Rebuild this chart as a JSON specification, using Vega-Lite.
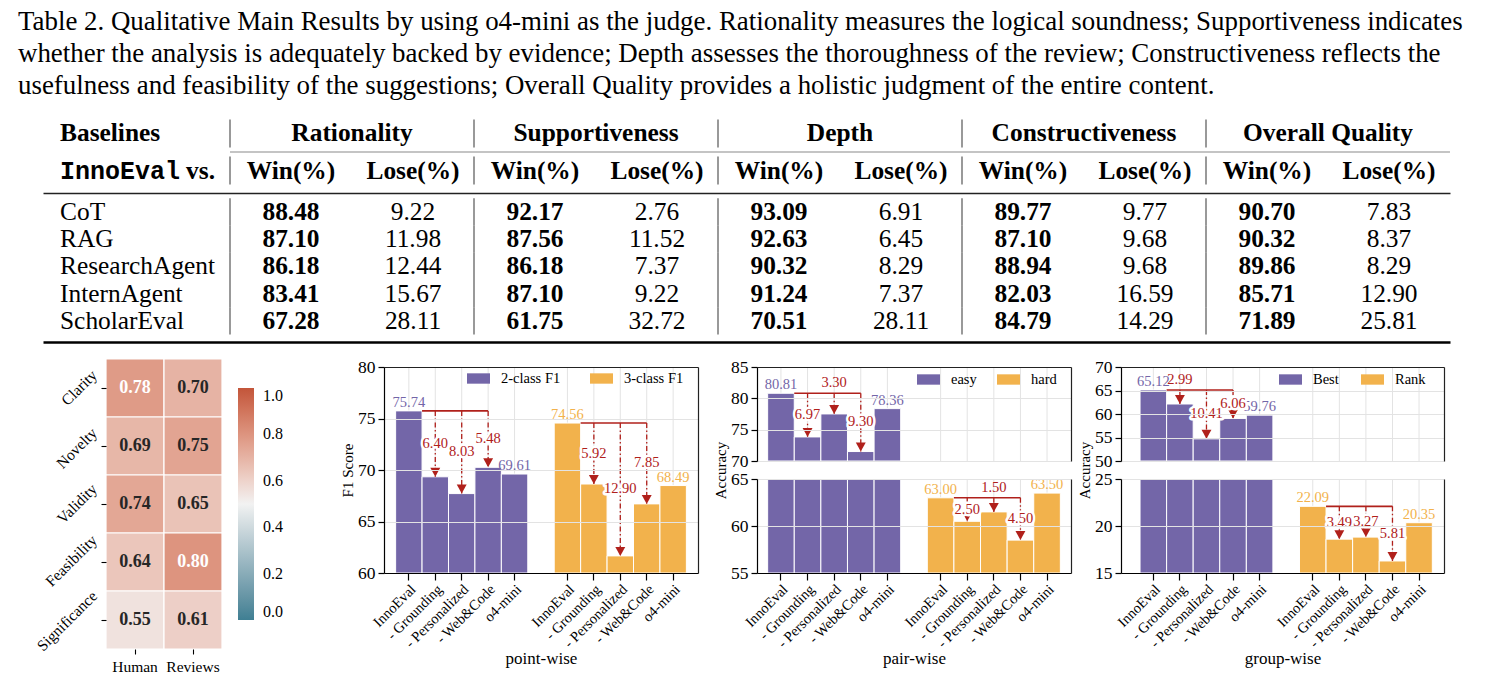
{
  "$schema": "https://vega.github.io/schema/vega-lite/v6.json",
  "background": "white",
  "padding": {"left": 18, "top": 8, "right": 4, "bottom": 4},
  "config": {
    "font": "Liberation Serif",
    "view": {"stroke": null},
    "axis": {"labelFont": "Liberation Serif", "titleFont": "Liberation Serif", "labelColor": "black", "titleColor": "black", "titleFontWeight": "normal"},
    "legend": {"labelFont": "Liberation Serif", "labelColor": "black", "padding": 0},
    "text": {"font": "Liberation Serif"}
  },
  "title": {
    "text": [
      "Table 2. Qualitative Main Results by using o4-mini as the judge. Rationality measures the logical soundness; Supportiveness indicates",
      "whether the analysis is adequately backed by evidence; Depth assesses the thoroughness of the review; Constructiveness reflects the",
      "usefulness and feasibility of the suggestions; Overall Quality provides a holistic judgment of the entire content."
    ],
    "anchor": "start", "frame": "group", "dx": -25, "offset": 11,
    "font": "Liberation Serif", "fontSize": 26.9, "fontWeight": "normal", "lineHeight": 32, "color": "black"
  },
  "datasets": {
    "headers": [
      {"row": "group", "column": "Baselines", "label": "Baselines"},
      {"row": "metric", "column": "Baselines", "label": "InnoEval"},
      {"row": "metric", "column": "Baselines", "label": "vs."},
      {"row": "group", "column": "Rationality Win", "label": "Rationality"},
      {"row": "group", "column": "Supportiveness Win", "label": "Supportiveness"},
      {"row": "group", "column": "Depth Win", "label": "Depth"},
      {"row": "group", "column": "Constructiveness Win", "label": "Constructiveness"},
      {"row": "group", "column": "Overall Quality Win", "label": "Overall Quality"},
      {"row": "metric", "column": "Rationality Win", "label": "Win(%)"},
      {"row": "metric", "column": "Rationality Lose", "label": "Lose(%)"},
      {"row": "metric", "column": "Supportiveness Win", "label": "Win(%)"},
      {"row": "metric", "column": "Supportiveness Lose", "label": "Lose(%)"},
      {"row": "metric", "column": "Depth Win", "label": "Win(%)"},
      {"row": "metric", "column": "Depth Lose", "label": "Lose(%)"},
      {"row": "metric", "column": "Constructiveness Win", "label": "Win(%)"},
      {"row": "metric", "column": "Constructiveness Lose", "label": "Lose(%)"},
      {"row": "metric", "column": "Overall Quality Win", "label": "Win(%)"},
      {"row": "metric", "column": "Overall Quality Lose", "label": "Lose(%)"}
    ],
    "results": [
      {"baseline": "CoT", "column": "Rationality Win", "value": 88.48},
      {"baseline": "CoT", "column": "Rationality Lose", "value": 9.22},
      {"baseline": "CoT", "column": "Supportiveness Win", "value": 92.17},
      {"baseline": "CoT", "column": "Supportiveness Lose", "value": 2.76},
      {"baseline": "CoT", "column": "Depth Win", "value": 93.09},
      {"baseline": "CoT", "column": "Depth Lose", "value": 6.91},
      {"baseline": "CoT", "column": "Constructiveness Win", "value": 89.77},
      {"baseline": "CoT", "column": "Constructiveness Lose", "value": 9.77},
      {"baseline": "CoT", "column": "Overall Quality Win", "value": 90.70},
      {"baseline": "CoT", "column": "Overall Quality Lose", "value": 7.83},
      {"baseline": "RAG", "column": "Rationality Win", "value": 87.10},
      {"baseline": "RAG", "column": "Rationality Lose", "value": 11.98},
      {"baseline": "RAG", "column": "Supportiveness Win", "value": 87.56},
      {"baseline": "RAG", "column": "Supportiveness Lose", "value": 11.52},
      {"baseline": "RAG", "column": "Depth Win", "value": 92.63},
      {"baseline": "RAG", "column": "Depth Lose", "value": 6.45},
      {"baseline": "RAG", "column": "Constructiveness Win", "value": 87.10},
      {"baseline": "RAG", "column": "Constructiveness Lose", "value": 9.68},
      {"baseline": "RAG", "column": "Overall Quality Win", "value": 90.32},
      {"baseline": "RAG", "column": "Overall Quality Lose", "value": 8.37},
      {"baseline": "ResearchAgent", "column": "Rationality Win", "value": 86.18},
      {"baseline": "ResearchAgent", "column": "Rationality Lose", "value": 12.44},
      {"baseline": "ResearchAgent", "column": "Supportiveness Win", "value": 86.18},
      {"baseline": "ResearchAgent", "column": "Supportiveness Lose", "value": 7.37},
      {"baseline": "ResearchAgent", "column": "Depth Win", "value": 90.32},
      {"baseline": "ResearchAgent", "column": "Depth Lose", "value": 8.29},
      {"baseline": "ResearchAgent", "column": "Constructiveness Win", "value": 88.94},
      {"baseline": "ResearchAgent", "column": "Constructiveness Lose", "value": 9.68},
      {"baseline": "ResearchAgent", "column": "Overall Quality Win", "value": 89.86},
      {"baseline": "ResearchAgent", "column": "Overall Quality Lose", "value": 8.29},
      {"baseline": "InternAgent", "column": "Rationality Win", "value": 83.41},
      {"baseline": "InternAgent", "column": "Rationality Lose", "value": 15.67},
      {"baseline": "InternAgent", "column": "Supportiveness Win", "value": 87.10},
      {"baseline": "InternAgent", "column": "Supportiveness Lose", "value": 9.22},
      {"baseline": "InternAgent", "column": "Depth Win", "value": 91.24},
      {"baseline": "InternAgent", "column": "Depth Lose", "value": 7.37},
      {"baseline": "InternAgent", "column": "Constructiveness Win", "value": 82.03},
      {"baseline": "InternAgent", "column": "Constructiveness Lose", "value": 16.59},
      {"baseline": "InternAgent", "column": "Overall Quality Win", "value": 85.71},
      {"baseline": "InternAgent", "column": "Overall Quality Lose", "value": 12.90},
      {"baseline": "ScholarEval", "column": "Rationality Win", "value": 67.28},
      {"baseline": "ScholarEval", "column": "Rationality Lose", "value": 28.11},
      {"baseline": "ScholarEval", "column": "Supportiveness Win", "value": 61.75},
      {"baseline": "ScholarEval", "column": "Supportiveness Lose", "value": 32.72},
      {"baseline": "ScholarEval", "column": "Depth Win", "value": 70.51},
      {"baseline": "ScholarEval", "column": "Depth Lose", "value": 28.11},
      {"baseline": "ScholarEval", "column": "Constructiveness Win", "value": 84.79},
      {"baseline": "ScholarEval", "column": "Constructiveness Lose", "value": 14.29},
      {"baseline": "ScholarEval", "column": "Overall Quality Win", "value": 71.89},
      {"baseline": "ScholarEval", "column": "Overall Quality Lose", "value": 25.81}
    ],
    "agreement": [
      {"aspect": "Clarity", "source": "Human", "score": 0.78},
      {"aspect": "Clarity", "source": "Reviews", "score": 0.70},
      {"aspect": "Novelty", "source": "Human", "score": 0.69},
      {"aspect": "Novelty", "source": "Reviews", "score": 0.75},
      {"aspect": "Validity", "source": "Human", "score": 0.74},
      {"aspect": "Validity", "source": "Reviews", "score": 0.65},
      {"aspect": "Feasibility", "source": "Human", "score": 0.64},
      {"aspect": "Feasibility", "source": "Reviews", "score": 0.80},
      {"aspect": "Significance", "source": "Human", "score": 0.55},
      {"aspect": "Significance", "source": "Reviews", "score": 0.61}
    ],
    "bars": [
      {"panel": "point-wise", "series": "2-class F1", "method": "InnoEval", "slot": "2-class F1|InnoEval", "value": 75.74},
      {"panel": "point-wise", "series": "2-class F1", "method": "- Grounding", "slot": "2-class F1|- Grounding", "value": 69.34, "ref": "2-class F1|InnoEval", "base": 75.74, "drop": 6.40},
      {"panel": "point-wise", "series": "2-class F1", "method": "- Personalized", "slot": "2-class F1|- Personalized", "value": 67.71, "ref": "2-class F1|InnoEval", "base": 75.74, "drop": 8.03},
      {"panel": "point-wise", "series": "2-class F1", "method": "- Web&Code", "slot": "2-class F1|- Web&Code", "value": 70.26, "ref": "2-class F1|InnoEval", "base": 75.74, "drop": 5.48},
      {"panel": "point-wise", "series": "2-class F1", "method": "o4-mini", "slot": "2-class F1|o4-mini", "value": 69.61},
      {"panel": "point-wise", "series": "3-class F1", "method": "InnoEval", "slot": "3-class F1|InnoEval", "value": 74.56},
      {"panel": "point-wise", "series": "3-class F1", "method": "- Grounding", "slot": "3-class F1|- Grounding", "value": 68.64, "ref": "3-class F1|InnoEval", "base": 74.56, "drop": 5.92},
      {"panel": "point-wise", "series": "3-class F1", "method": "- Personalized", "slot": "3-class F1|- Personalized", "value": 61.66, "ref": "3-class F1|InnoEval", "base": 74.56, "drop": 12.90},
      {"panel": "point-wise", "series": "3-class F1", "method": "- Web&Code", "slot": "3-class F1|- Web&Code", "value": 66.71, "ref": "3-class F1|InnoEval", "base": 74.56, "drop": 7.85},
      {"panel": "point-wise", "series": "3-class F1", "method": "o4-mini", "slot": "3-class F1|o4-mini", "value": 68.49},
      {"panel": "pair-wise", "series": "easy", "method": "InnoEval", "slot": "easy|InnoEval", "value": 80.81},
      {"panel": "pair-wise", "series": "easy", "method": "- Grounding", "slot": "easy|- Grounding", "value": 73.84, "ref": "easy|InnoEval", "base": 80.81, "drop": 6.97},
      {"panel": "pair-wise", "series": "easy", "method": "- Personalized", "slot": "easy|- Personalized", "value": 77.51, "ref": "easy|InnoEval", "base": 80.81, "drop": 3.30},
      {"panel": "pair-wise", "series": "easy", "method": "- Web&Code", "slot": "easy|- Web&Code", "value": 71.51, "ref": "easy|InnoEval", "base": 80.81, "drop": 9.30},
      {"panel": "pair-wise", "series": "easy", "method": "o4-mini", "slot": "easy|o4-mini", "value": 78.36},
      {"panel": "pair-wise", "series": "hard", "method": "InnoEval", "slot": "hard|InnoEval", "value": 63.00},
      {"panel": "pair-wise", "series": "hard", "method": "- Grounding", "slot": "hard|- Grounding", "value": 60.50, "ref": "hard|InnoEval", "base": 63.00, "drop": 2.50},
      {"panel": "pair-wise", "series": "hard", "method": "- Personalized", "slot": "hard|- Personalized", "value": 61.50, "ref": "hard|InnoEval", "base": 63.00, "drop": 1.50},
      {"panel": "pair-wise", "series": "hard", "method": "- Web&Code", "slot": "hard|- Web&Code", "value": 58.50, "ref": "hard|InnoEval", "base": 63.00, "drop": 4.50},
      {"panel": "pair-wise", "series": "hard", "method": "o4-mini", "slot": "hard|o4-mini", "value": 63.50},
      {"panel": "group-wise", "series": "Best", "method": "InnoEval", "slot": "Best|InnoEval", "value": 65.12},
      {"panel": "group-wise", "series": "Best", "method": "- Grounding", "slot": "Best|- Grounding", "value": 62.13, "ref": "Best|InnoEval", "base": 65.12, "drop": 2.99},
      {"panel": "group-wise", "series": "Best", "method": "- Personalized", "slot": "Best|- Personalized", "value": 54.71, "ref": "Best|InnoEval", "base": 65.12, "drop": 10.41},
      {"panel": "group-wise", "series": "Best", "method": "- Web&Code", "slot": "Best|- Web&Code", "value": 59.06, "ref": "Best|InnoEval", "base": 65.12, "drop": 6.06},
      {"panel": "group-wise", "series": "Best", "method": "o4-mini", "slot": "Best|o4-mini", "value": 59.76},
      {"panel": "group-wise", "series": "Rank", "method": "InnoEval", "slot": "Rank|InnoEval", "value": 22.09},
      {"panel": "group-wise", "series": "Rank", "method": "- Grounding", "slot": "Rank|- Grounding", "value": 18.60, "ref": "Rank|InnoEval", "base": 22.09, "drop": 3.49},
      {"panel": "group-wise", "series": "Rank", "method": "- Personalized", "slot": "Rank|- Personalized", "value": 18.82, "ref": "Rank|InnoEval", "base": 22.09, "drop": 3.27},
      {"panel": "group-wise", "series": "Rank", "method": "- Web&Code", "slot": "Rank|- Web&Code", "value": 16.28, "ref": "Rank|InnoEval", "base": 22.09, "drop": 5.81},
      {"panel": "group-wise", "series": "Rank", "method": "o4-mini", "slot": "Rank|o4-mini", "value": 20.35}
    ]
  },
  "spacing": 0,
  "bounds": "flush",
  "vconcat": [
    {
      "width": 1407,
      "height": 82,
      "data": {"name": "headers"},
      "encoding": {
        "x": {"field": "column", "type": "nominal", "axis": null,
              "scale": {"type": "band", "domain": ["Baselines", "Rationality Win", "Rationality Lose", "Supportiveness Win", "Supportiveness Lose", "Depth Win", "Depth Lose", "Constructiveness Win", "Constructiveness Lose", "Overall Quality Win", "Overall Quality Lose"], "paddingInner": 0, "paddingOuter": 0.2664, "align": 1}},
        "y": {"field": "row", "type": "nominal", "axis": null, "scale": {"type": "band", "domain": ["group", "metric"], "paddingInner": 0, "paddingOuter": 0.108}}
      },
      "layer": [
        {
          "transform": [{"filter": "datum.row == 'metric' && datum.column != 'Baselines'"}],
          "mark": {"type": "text", "fontSize": 25.4, "fontWeight": "bold", "color": "black"},
          "encoding": {
            "x": {"field": "column", "type": "nominal",
                  "axis": {"orient": "top", "domain": true, "domainColor": "black", "domainWidth": 2, "labels": false, "ticks": false, "title": null, "grid": false, "zindex": 1}},
            "text": {"field": "label"}
          }
        },
        {
          "transform": [{"filter": "indexof(datum.column, 'Win') >= 0"}],
          "mark": {"type": "rule", "color": "#555555", "strokeWidth": 1.2},
          "encoding": {
            "x": {"field": "column", "type": "nominal", "bandPosition": 0, "axis": null},
            "y": {"field": "row", "type": "nominal", "bandPosition": 0.12, "axis": null},
            "y2": {"field": "row", "bandPosition": 0.88}
          }
        },
        {
          "transform": [{"filter": "datum.row == 'metric' && datum.column != 'Baselines'"}],
          "mark": {"type": "rule", "color": "#8a8a8a", "strokeWidth": 1.2},
          "encoding": {
            "x": {"field": "column", "type": "nominal", "bandPosition": 0, "axis": null},
            "x2": {"field": "column", "bandPosition": 1},
            "y": {"field": "row", "type": "nominal", "bandPosition": 0, "axis": null}
          }
        },
        {
          "transform": [{"filter": "datum.row == 'group' && datum.column != 'Baselines'"}],
          "mark": {"type": "text", "fontSize": 25.4, "fontWeight": "bold", "color": "black"},
          "encoding": {
            "x": {"field": "column", "type": "nominal", "bandPosition": 1, "axis": null},
            "text": {"field": "label"}
          }
        },
        {
          "transform": [{"filter": "datum.label == 'Baselines'"}],
          "mark": {"type": "text", "align": "left", "dx": -48, "fontSize": 25.4, "fontWeight": "bold", "color": "black"},
          "encoding": {
            "x": {"field": "column", "type": "nominal", "bandPosition": 0, "axis": null},
            "text": {"field": "label"}
          }
        },
        {
          "transform": [{"filter": "datum.label == 'InnoEval'"}],
          "mark": {"type": "text", "align": "left", "dx": -48, "font": "Liberation Mono", "fontSize": 25, "fontWeight": "bold", "color": "black"},
          "encoding": {
            "x": {"field": "column", "type": "nominal", "bandPosition": 0, "axis": null},
            "text": {"field": "label"}
          }
        },
        {
          "transform": [{"filter": "datum.label == 'vs.'"}],
          "mark": {"type": "text", "align": "right", "dx": -15, "fontSize": 25.4, "fontWeight": "bold", "color": "black"},
          "encoding": {
            "x": {"field": "column", "type": "nominal", "bandPosition": 1, "axis": null},
            "text": {"field": "label"}
          }
        }
      ]
    },
    {
      "width": 1407,
      "height": 149,
      "data": {"name": "results"},
      "encoding": {
        "x": {"field": "column", "type": "nominal", "axis": null,
              "scale": {"type": "band", "domain": ["Baselines", "Rationality Win", "Rationality Lose", "Supportiveness Win", "Supportiveness Lose", "Depth Win", "Depth Lose", "Constructiveness Win", "Constructiveness Lose", "Overall Quality Win", "Overall Quality Lose"], "paddingInner": 0, "paddingOuter": 0.2664, "align": 1}},
        "y": {"field": "baseline", "type": "nominal", "axis": null,
              "scale": {"type": "band", "domain": ["CoT", "RAG", "ResearchAgent", "InternAgent", "ScholarEval"], "paddingInner": 0, "paddingOuter": 0.234, "align": 0.42}}
      },
      "layer": [
        {
          "transform": [{"filter": "indexof(datum.column, 'Win') >= 0"}],
          "mark": {"type": "rule", "color": "#555555", "strokeWidth": 1.2},
          "encoding": {
            "x": {"field": "column", "type": "nominal", "bandPosition": 0,
                  "axis": {"orient": "top", "domain": true, "domainColor": "#222222", "domainWidth": 1.4, "labels": false, "ticks": false, "title": null, "grid": false, "zindex": 1}},
            "y": {"field": "baseline", "type": "nominal", "bandPosition": 0, "axis": null},
            "y2": {"field": "baseline", "bandPosition": 1}
          }
        },
        {
          "transform": [{"filter": "indexof(datum.column, 'Win') >= 0"}],
          "mark": {"type": "text", "fontSize": 25.4, "fontWeight": "bold", "color": "black"},
          "encoding": {
            "x": {"field": "column", "type": "nominal", "axis": null},
            "text": {"field": "value", "type": "quantitative", "format": ".2f"}
          }
        },
        {
          "transform": [{"filter": "indexof(datum.column, 'Lose') >= 0"}],
          "mark": {"type": "text", "fontSize": 25.4, "color": "black"},
          "encoding": {
            "x": {"field": "column", "type": "nominal",
                  "axis": {"orient": "bottom", "domain": true, "domainColor": "black", "domainWidth": 2.5, "labels": false, "ticks": false, "title": null, "grid": false, "zindex": 1}},
            "text": {"field": "value", "type": "quantitative", "format": ".2f"}
          }
        },
        {
          "transform": [{"filter": "datum.column == 'Rationality Win'"}],
          "mark": {"type": "text", "align": "left", "dx": -109, "fontSize": 25.4, "color": "black"},
          "encoding": {
            "x": {"datum": "Baselines", "type": "nominal", "bandPosition": 0.5, "axis": null},
            "text": {"field": "baseline"}
          }
        }
      ],
      "resolve": {"axis": {"x": "independent"}}
    },
    {
      "spacing": 50,
      "bounds": "flush",
      "resolve": {"scale": {"color": "independent"}, "legend": {"color": "independent"}},
      "hconcat": [
        {
          "width": 291,
          "height": 307,
          "data": {"name": "agreement"},
          "encoding": {
            "x": {"field": "source", "type": "nominal",
                  "scale": {"type": "band", "domain": ["Human", "Reviews"], "range": [63, 179], "paddingInner": 0, "paddingOuter": 0},
                  "axis": {"orient": "bottom", "domain": false, "tickSize": 5, "tickColor": "black", "tickWidth": 1.1, "labelAngle": 0, "labelFontSize": 15.5, "labelPadding": 5, "title": null, "grid": false}},
            "y": {"field": "aspect", "type": "nominal",
                  "scale": {"type": "band", "domain": ["Clarity", "Novelty", "Validity", "Feasibility", "Significance"], "paddingInner": 0, "paddingOuter": 0.1466, "align": 1},
                  "axis": {"orient": "left", "offset": -63, "domain": false, "tickSize": 5, "tickColor": "black", "tickWidth": 1.1, "labelAngle": -45, "labelAlign": "right", "labelBaseline": "middle", "labelPadding": 7, "labelFontSize": 15.5, "labelOffset": {"expr": "-2.2*length(datum.label)"}, "title": null, "grid": false}}
          },
          "layer": [
            {
              "mark": {"type": "rect", "stroke": "white", "strokeWidth": 1.2},
              "encoding": {
                "color": {"field": "score", "type": "quantitative",
                          "scale": {"domain": [0, 0.5, 1], "range": ["#3f7f93", "#f2f2f2", "#c3553a"]},
                          "legend": {"orient": "none", "legendX": 195, "legendY": 46, "direction": "vertical", "title": null, "gradientLength": 232, "gradientThickness": 16, "values": [0, 0.2, 0.4, 0.6, 0.8, 1], "format": ".1f", "labelFontSize": 16, "labelOffset": 9, "gradientStrokeWidth": 0}}
              }
            },
            {
              "mark": {"type": "text", "fontSize": 18, "fontWeight": "bold"},
              "encoding": {
                "text": {"field": "score", "type": "quantitative", "format": ".2f"},
                "color": {"condition": {"test": "datum.score > 0.76", "value": "white"}, "value": "#262626"}
              }
            }
          ]
        },
        {
          "width": 323,
          "height": 231,
          "data": {"name": "bars"},
          "transform": [{"filter": "datum.panel == 'point-wise'"}],
          "layer": [
            {
              "mark": {"type": "rule", "color": "#e3e3e3", "strokeWidth": 1},
              "encoding": {
                "x": {"field": "slot", "type": "nominal",
                      "scale": {"type": "band", "domain": ["2-class F1|InnoEval", "2-class F1|- Grounding", "2-class F1|- Personalized", "2-class F1|- Web&Code", "2-class F1|o4-mini", "|", "3-class F1|InnoEval", "3-class F1|- Grounding", "3-class F1|- Personalized", "3-class F1|- Web&Code", "3-class F1|o4-mini"], "range": [0, 314], "paddingInner": 0, "paddingOuter": 0.44},
                      "axis": {"orient": "bottom", "values": ["2-class F1|InnoEval", "2-class F1|- Grounding", "2-class F1|- Personalized", "2-class F1|- Web&Code", "2-class F1|o4-mini", "3-class F1|InnoEval", "3-class F1|- Grounding", "3-class F1|- Personalized", "3-class F1|- Web&Code", "3-class F1|o4-mini"], "labelExpr": "split(datum.value, '|')[1]", "labelAngle": -45, "labelAlign": "right", "labelBaseline": "top", "labelFontSize": 14.5, "labelPadding": 2, "labelOverlap": false, "labelBound": false, "tickSize": 7, "tickColor": "black", "tickWidth": 1.2, "domainColor": "black", "domainWidth": 1.2, "grid": false, "title": "point-wise", "titleFontSize": 17, "titlePadding": 1, "zindex": 1}},
                "y": {"datum": 80, "type": "quantitative",
                      "scale": {"domain": [60, 80], "range": [231, 25], "nice": false, "zero": false, "clamp": true},
                      "axis": {"orient": "left", "values": [60, 65, 70, 75, 80], "labelFontSize": 17.5, "labelPadding": 3, "tickSize": 6, "tickColor": "black", "tickWidth": 1.2, "domainColor": "black", "domainWidth": 1.2, "grid": true, "gridColor": "#e3e3e3", "gridWidth": 1, "title": "F1 Score", "titleFontSize": 15, "titlePadding": 2, "zindex": 1}},
                "y2": {"datum": 60}
              }
            },
            {
              "mark": {"type": "bar", "stroke": "white", "strokeWidth": 1},
              "encoding": {
                "x": {"field": "slot", "type": "nominal",
                      "axis": {"orient": "top", "offset": -25, "domain": true, "domainColor": "#222222", "domainWidth": 1.2, "labels": false, "ticks": false, "grid": false, "title": null, "zindex": 1}},
                "y": {"field": "value", "type": "quantitative",
                      "axis": {"orient": "right", "offset": -9, "domain": true, "domainColor": "#222222", "domainWidth": 1.2, "labels": false, "ticks": false, "grid": false, "title": null, "zindex": 1}},
                "y2": {"datum": 60},
                "color": {"field": "series", "type": "nominal",
                          "scale": {"domain": ["2-class F1", "3-class F1"], "range": ["#7366a8", "#f2b24c"]},
                          "legend": {"orient": "none", "legendX": 83, "legendY": 25, "direction": "horizontal", "title": null, "symbolType": "M-1,-0.45L1,-0.45L1,0.45L-1,0.45Z", "symbolSize": 529, "symbolStrokeWidth": 0, "symbolOpacity": 1, "labelFontSize": 14.5, "labelOffset": 11, "columnPadding": 29}}
              }
            },
            {
              "transform": [{"filter": "datum.method == 'InnoEval' || datum.method == 'o4-mini'"}],
              "mark": {"type": "text", "baseline": "bottom", "dy": -1, "fontSize": 14.5},
              "encoding": {
                "x": {"field": "slot", "type": "nominal", "axis": null},
                "y": {"field": "value", "type": "quantitative", "axis": null},
                "text": {"field": "value", "type": "quantitative", "format": ".2f"},
                "color": {"field": "series", "type": "nominal"}
              }
            },
            {
              "transform": [{"filter": "datum.drop != null"}],
              "mark": {"type": "rule", "color": "#b0201b", "strokeWidth": 1.3, "strokeDash": [5, 2.5, 1.5, 2.5]},
              "encoding": {
                "x": {"field": "slot", "type": "nominal", "axis": null},
                "y": {"field": "base", "type": "quantitative", "axis": null},
                "y2": {"field": "value"}
              }
            },
            {
              "transform": [{"filter": "datum.method == '- Web&Code'"}],
              "mark": {"type": "rule", "color": "#b0201b", "strokeWidth": 1.6},
              "encoding": {
                "x": {"field": "ref", "type": "nominal", "bandPosition": 1, "axis": null},
                "x2": {"field": "slot", "bandPosition": 0.5},
                "y": {"field": "base", "type": "quantitative", "axis": null}
              }
            },
            {
              "transform": [{"filter": "datum.drop != null"}],
              "mark": {"type": "point", "shape": "M-0.55,-1L0.55,-1L0,0Z", "size": 324, "filled": true, "color": "#b0201b", "opacity": 1},
              "encoding": {
                "x": {"field": "slot", "type": "nominal", "axis": null},
                "y": {"field": "value", "type": "quantitative", "axis": null}
              }
            },
            {
              "transform": [{"filter": "datum.drop != null"}, {"fold": ["value", "base"], "as": ["end", "level"]}],
              "encoding": {
                "x": {"field": "slot", "type": "nominal", "axis": null},
                "y": {"aggregate": "mean", "field": "level", "type": "quantitative", "axis": null},
                "text": {"field": "drop", "type": "quantitative", "format": ".2f"}
              },
              "layer": [
                {"mark": {"type": "text", "fontSize": 14.5, "fill": "white", "stroke": "white", "strokeWidth": 5, "strokeJoin": "round"}},
                {"mark": {"type": "text", "fontSize": 14.5, "fill": "#b0201b"}}
              ]
            }
          ],
          "resolve": {"axis": {"x": "independent", "y": "independent"}}
        },
        {
          "width": 314,
          "height": 231,
          "data": {"name": "bars"},
          "transform": [{"filter": "datum.panel == 'pair-wise'"}],
          "layer": [
            {
              "mark": {"type": "rule", "color": "#e3e3e3", "strokeWidth": 1},
              "encoding": {
                "x": {"field": "slot", "type": "nominal",
                      "scale": {"type": "band", "domain": ["easy|InnoEval", "easy|- Grounding", "easy|- Personalized", "easy|- Web&Code", "easy|o4-mini", "|", "hard|InnoEval", "hard|- Grounding", "hard|- Personalized", "hard|- Web&Code", "hard|o4-mini"], "paddingInner": 0, "paddingOuter": 0.4},
                      "axis": {"orient": "top", "offset": -25, "domain": true, "domainColor": "#222222", "domainWidth": 1.2, "labels": false, "ticks": false, "grid": false, "title": null, "zindex": 1}},
                "y": {"datum": 85, "type": "quantitative",
                      "scale": {"domain": [70, 85], "range": [119, 25], "nice": false, "zero": false, "clamp": true},
                      "axis": {"orient": "left", "values": [70, 75, 80, 85], "labelFontSize": 17.5, "labelPadding": 3, "tickSize": 6, "tickColor": "black", "tickWidth": 1.2, "domainColor": "black", "domainWidth": 1.2, "grid": true, "gridColor": "#e3e3e3", "gridWidth": 1, "title": "Accuracy", "titleFontSize": 15, "titlePadding": 2, "titleY": 128, "zindex": 1}},
                "y2": {"datum": 70}
              }
            },
            {
              "mark": {"type": "rule", "color": "#e3e3e3", "strokeWidth": 1},
              "encoding": {
                "x": {"field": "slot", "type": "nominal",
                      "axis": {"orient": "bottom", "values": ["easy|InnoEval", "easy|- Grounding", "easy|- Personalized", "easy|- Web&Code", "easy|o4-mini", "hard|InnoEval", "hard|- Grounding", "hard|- Personalized", "hard|- Web&Code", "hard|o4-mini"], "labelExpr": "split(datum.value, '|')[1]", "labelAngle": -45, "labelAlign": "right", "labelBaseline": "top", "labelFontSize": 14.5, "labelPadding": 2, "labelOverlap": false, "labelBound": false, "tickSize": 7, "tickColor": "black", "tickWidth": 1.2, "domainColor": "black", "domainWidth": 1.2, "grid": false, "title": "pair-wise", "titleFontSize": 17, "titlePadding": 1, "zindex": 1}},
                "y": {"datum": 65, "type": "quantitative",
                      "scale": {"domain": [55, 65], "range": [231, 137], "nice": false, "zero": false, "clamp": true},
                      "axis": {"orient": "left", "values": [55, 60, 65], "labelFontSize": 17.5, "labelPadding": 3, "tickSize": 6, "tickColor": "black", "tickWidth": 1.2, "domainColor": "black", "domainWidth": 1.2, "grid": true, "gridColor": "#e3e3e3", "gridWidth": 1, "title": null, "zindex": 1}},
                "y2": {"datum": 55}
              }
            },
            {
              "transform": [{"filter": "datum.series == 'easy'"}],
              "mark": {"type": "bar", "stroke": "white", "strokeWidth": 1},
              "encoding": {
                "x": {"field": "slot", "type": "nominal", "axis": null},
                "y": {"field": "value", "type": "quantitative",
                      "scale": {"domain": [70, 85], "range": [119, 25], "nice": false, "zero": false, "clamp": true},
                      "axis": {"orient": "right", "domain": true, "domainColor": "#222222", "domainWidth": 1.2, "labels": false, "ticks": false, "grid": false, "title": null, "zindex": 1}},
                "y2": {"datum": 70},
                "color": {"field": "series", "type": "nominal",
                          "scale": {"domain": ["easy", "hard"], "range": ["#7366a8", "#f2b24c"]},
                          "legend": {"orient": "none", "legendX": 160, "legendY": 26, "direction": "horizontal", "title": null, "symbolType": "M-1,-0.45L1,-0.45L1,0.45L-1,0.45Z", "symbolSize": 529, "symbolStrokeWidth": 0, "symbolOpacity": 1, "labelFontSize": 14.5, "labelOffset": 11, "columnPadding": 20}}
              }
            },
            {
              "mark": {"type": "bar", "stroke": "white", "strokeWidth": 1},
              "encoding": {
                "x": {"field": "slot", "type": "nominal", "axis": null},
                "y": {"field": "value", "type": "quantitative",
                      "scale": {"domain": [55, 65], "range": [231, 137], "nice": false, "zero": false, "clamp": true},
                      "axis": {"orient": "right", "domain": true, "domainColor": "#222222", "domainWidth": 1.2, "labels": false, "ticks": false, "grid": false, "title": null, "zindex": 1}},
                "y2": {"datum": 55},
                "color": {"field": "series", "type": "nominal"}
              }
            },
            {
              "transform": [{"filter": "datum.series == 'easy' && (datum.method == 'InnoEval' || datum.method == 'o4-mini')"}],
              "mark": {"type": "text", "baseline": "bottom", "dy": -1, "fontSize": 14.5},
              "encoding": {
                "x": {"field": "slot", "type": "nominal", "axis": null},
                "y": {"field": "value", "type": "quantitative", "axis": null,
                      "scale": {"domain": [70, 85], "range": [119, 25], "nice": false, "zero": false, "clamp": true}},
                "text": {"field": "value", "type": "quantitative", "format": ".2f"},
                "color": {"field": "series", "type": "nominal"}
              }
            },
            {
              "transform": [{"filter": "datum.series == 'hard' && (datum.method == 'InnoEval' || datum.method == 'o4-mini')"}],
              "mark": {"type": "text", "baseline": "bottom", "dy": -1, "fontSize": 14.5},
              "encoding": {
                "x": {"field": "slot", "type": "nominal", "axis": null},
                "y": {"field": "value", "type": "quantitative", "axis": null,
                      "scale": {"domain": [55, 65], "range": [231, 137], "nice": false, "zero": false, "clamp": true}},
                "text": {"field": "value", "type": "quantitative", "format": ".2f"},
                "color": {"field": "series", "type": "nominal"}
              }
            },
            {
              "transform": [{"filter": "datum.series == 'easy' && datum.drop != null"}],
              "encoding": {
                "x": {"field": "slot", "type": "nominal", "axis": null},
                "y": {"field": "base", "type": "quantitative", "axis": null,
                      "scale": {"domain": [70, 85], "range": [119, 25], "nice": false, "zero": false, "clamp": true}}
              },
              "layer": [
                {"mark": {"type": "rule", "color": "#b0201b", "strokeWidth": 1.3, "strokeDash": [5, 2.5, 1.5, 2.5]}, "encoding": {"y2": {"field": "value"}}},
                {"transform": [{"filter": "datum.method == '- Web&Code'"}], "mark": {"type": "rule", "color": "#b0201b", "strokeWidth": 1.6},
                 "encoding": {"x": {"field": "ref", "type": "nominal", "bandPosition": 1, "axis": null}, "x2": {"field": "slot", "bandPosition": 0.5}}},
                {"mark": {"type": "point", "shape": "M-0.55,-1L0.55,-1L0,0Z", "size": 324, "filled": true, "color": "#b0201b", "opacity": 1},
                 "encoding": {"y": {"field": "value", "type": "quantitative", "axis": null}}},
                {"transform": [{"filter": "datum.drop < 4"}], "mark": {"type": "text", "baseline": "bottom", "dy": -3, "fontSize": 14.5, "fill": "#b0201b"},
                 "encoding": {"text": {"field": "drop", "type": "quantitative", "format": ".2f"}}},
                {"transform": [{"filter": "datum.drop >= 4"}, {"fold": ["value", "base"], "as": ["end", "level"]}],
                 "encoding": {"y": {"aggregate": "mean", "field": "level", "type": "quantitative", "axis": null}, "text": {"field": "drop", "type": "quantitative", "format": ".2f"}},
                 "layer": [
                   {"mark": {"type": "text", "fontSize": 14.5, "fill": "white", "stroke": "white", "strokeWidth": 5, "strokeJoin": "round"}},
                   {"mark": {"type": "text", "fontSize": 14.5, "fill": "#b0201b"}}
                 ]}
              ]
            },
            {
              "transform": [{"filter": "datum.series == 'hard' && datum.drop != null"}],
              "encoding": {
                "x": {"field": "slot", "type": "nominal", "axis": null},
                "y": {"field": "base", "type": "quantitative", "axis": null,
                      "scale": {"domain": [55, 65], "range": [231, 137], "nice": false, "zero": false, "clamp": true}}
              },
              "layer": [
                {"mark": {"type": "rule", "color": "#b0201b", "strokeWidth": 1.3, "strokeDash": [5, 2.5, 1.5, 2.5]}, "encoding": {"y2": {"field": "value"}}},
                {"transform": [{"filter": "datum.method == '- Web&Code'"}], "mark": {"type": "rule", "color": "#b0201b", "strokeWidth": 1.6},
                 "encoding": {"x": {"field": "ref", "type": "nominal", "bandPosition": 1, "axis": null}, "x2": {"field": "slot", "bandPosition": 0.5}}},
                {"mark": {"type": "point", "shape": "M-0.55,-1L0.55,-1L0,0Z", "size": 324, "filled": true, "color": "#b0201b", "opacity": 1},
                 "encoding": {"y": {"field": "value", "type": "quantitative", "axis": null}}},
                {"transform": [{"filter": "datum.drop < 2"}], "mark": {"type": "text", "baseline": "bottom", "dy": -3, "fontSize": 14.5, "fill": "#b0201b"},
                 "encoding": {"text": {"field": "drop", "type": "quantitative", "format": ".2f"}}},
                {"transform": [{"filter": "datum.drop >= 2"}, {"fold": ["value", "base"], "as": ["end", "level"]}],
                 "encoding": {"y": {"aggregate": "mean", "field": "level", "type": "quantitative", "axis": null}, "text": {"field": "drop", "type": "quantitative", "format": ".2f"}},
                 "layer": [
                   {"mark": {"type": "text", "fontSize": 14.5, "fill": "white", "stroke": "white", "strokeWidth": 5, "strokeJoin": "round"}},
                   {"mark": {"type": "text", "fontSize": 14.5, "fill": "#b0201b"}}
                 ]}
              ]
            }
          ],
          "resolve": {"scale": {"y": "independent"}, "axis": {"x": "independent", "y": "independent"}}
        },
        {
          "width": 323,
          "height": 231,
          "data": {"name": "bars"},
          "transform": [{"filter": "datum.panel == 'group-wise'"}],
          "layer": [
            {
              "mark": {"type": "rule", "color": "#e3e3e3", "strokeWidth": 1},
              "encoding": {
                "x": {"field": "slot", "type": "nominal",
                      "scale": {"type": "band", "domain": ["Best|InnoEval", "Best|- Grounding", "Best|- Personalized", "Best|- Web&Code", "Best|o4-mini", "|", "Rank|InnoEval", "Rank|- Grounding", "Rank|- Personalized", "Rank|- Web&Code", "Rank|o4-mini"], "paddingInner": 0, "paddingOuter": 0.578, "align": 0.62},
                      "axis": {"orient": "top", "offset": -25, "domain": true, "domainColor": "#222222", "domainWidth": 1.2, "labels": false, "ticks": false, "grid": false, "title": null, "zindex": 1}},
                "y": {"datum": 70, "type": "quantitative",
                      "scale": {"domain": [50, 70], "range": [119, 25], "nice": false, "zero": false, "clamp": true},
                      "axis": {"orient": "left", "values": [50, 55, 60, 65, 70], "labelFontSize": 17.5, "labelPadding": 3, "tickSize": 6, "tickColor": "black", "tickWidth": 1.2, "domainColor": "black", "domainWidth": 1.2, "grid": true, "gridColor": "#e3e3e3", "gridWidth": 1, "title": "Accuracy", "titleFontSize": 15, "titlePadding": 2, "titleY": 128, "zindex": 1}},
                "y2": {"datum": 50}
              }
            },
            {
              "mark": {"type": "rule", "color": "#e3e3e3", "strokeWidth": 1},
              "encoding": {
                "x": {"field": "slot", "type": "nominal",
                      "axis": {"orient": "bottom", "values": ["Best|InnoEval", "Best|- Grounding", "Best|- Personalized", "Best|- Web&Code", "Best|o4-mini", "Rank|InnoEval", "Rank|- Grounding", "Rank|- Personalized", "Rank|- Web&Code", "Rank|o4-mini"], "labelExpr": "split(datum.value, '|')[1]", "labelAngle": -45, "labelAlign": "right", "labelBaseline": "top", "labelFontSize": 14.5, "labelPadding": 2, "labelOverlap": false, "labelBound": false, "tickSize": 7, "tickColor": "black", "tickWidth": 1.2, "domainColor": "black", "domainWidth": 1.2, "grid": false, "title": "group-wise", "titleFontSize": 17, "titlePadding": 1, "zindex": 1}},
                "y": {"datum": 25, "type": "quantitative",
                      "scale": {"domain": [15, 25], "range": [231, 137], "nice": false, "zero": false, "clamp": true},
                      "axis": {"orient": "left", "values": [15, 20, 25], "labelFontSize": 17.5, "labelPadding": 3, "tickSize": 6, "tickColor": "black", "tickWidth": 1.2, "domainColor": "black", "domainWidth": 1.2, "grid": true, "gridColor": "#e3e3e3", "gridWidth": 1, "title": null, "zindex": 1}},
                "y2": {"datum": 15}
              }
            },
            {
              "transform": [{"filter": "datum.series == 'Best'"}],
              "mark": {"type": "bar", "stroke": "white", "strokeWidth": 1},
              "encoding": {
                "x": {"field": "slot", "type": "nominal", "axis": null},
                "y": {"field": "value", "type": "quantitative",
                      "scale": {"domain": [50, 70], "range": [119, 25], "nice": false, "zero": false, "clamp": true},
                      "axis": {"orient": "right", "domain": true, "domainColor": "#222222", "domainWidth": 1.2, "labels": false, "ticks": false, "grid": false, "title": null, "zindex": 1}},
                "y2": {"datum": 50},
                "color": {"field": "series", "type": "nominal",
                          "scale": {"domain": ["Best", "Rank"], "range": ["#7366a8", "#f2b24c"]},
                          "legend": {"orient": "none", "legendX": 158, "legendY": 26, "direction": "horizontal", "title": null, "symbolType": "M-1,-0.45L1,-0.45L1,0.45L-1,0.45Z", "symbolSize": 529, "symbolStrokeWidth": 0, "symbolOpacity": 1, "labelFontSize": 14.5, "labelOffset": 11, "columnPadding": 22}}
              }
            },
            {
              "mark": {"type": "bar", "stroke": "white", "strokeWidth": 1},
              "encoding": {
                "x": {"field": "slot", "type": "nominal", "axis": null},
                "y": {"field": "value", "type": "quantitative",
                      "scale": {"domain": [15, 25], "range": [231, 137], "nice": false, "zero": false, "clamp": true},
                      "axis": {"orient": "right", "domain": true, "domainColor": "#222222", "domainWidth": 1.2, "labels": false, "ticks": false, "grid": false, "title": null, "zindex": 1}},
                "y2": {"datum": 15},
                "color": {"field": "series", "type": "nominal"}
              }
            },
            {
              "transform": [{"filter": "datum.series == 'Best' && (datum.method == 'InnoEval' || datum.method == 'o4-mini')"}],
              "mark": {"type": "text", "baseline": "bottom", "dy": -1, "fontSize": 14.5},
              "encoding": {
                "x": {"field": "slot", "type": "nominal", "axis": null},
                "y": {"field": "value", "type": "quantitative", "axis": null,
                      "scale": {"domain": [50, 70], "range": [119, 25], "nice": false, "zero": false, "clamp": true}},
                "text": {"field": "value", "type": "quantitative", "format": ".2f"},
                "color": {"field": "series", "type": "nominal"}
              }
            },
            {
              "transform": [{"filter": "datum.series == 'Rank' && (datum.method == 'InnoEval' || datum.method == 'o4-mini')"}],
              "mark": {"type": "text", "baseline": "bottom", "dy": -1, "fontSize": 14.5},
              "encoding": {
                "x": {"field": "slot", "type": "nominal", "axis": null},
                "y": {"field": "value", "type": "quantitative", "axis": null,
                      "scale": {"domain": [15, 25], "range": [231, 137], "nice": false, "zero": false, "clamp": true}},
                "text": {"field": "value", "type": "quantitative", "format": ".2f"},
                "color": {"field": "series", "type": "nominal"}
              }
            },
            {
              "transform": [{"filter": "datum.series == 'Best' && datum.drop != null"}],
              "encoding": {
                "x": {"field": "slot", "type": "nominal", "axis": null},
                "y": {"field": "base", "type": "quantitative", "axis": null,
                      "scale": {"domain": [50, 70], "range": [119, 25], "nice": false, "zero": false, "clamp": true}}
              },
              "layer": [
                {"mark": {"type": "rule", "color": "#b0201b", "strokeWidth": 1.3, "strokeDash": [5, 2.5, 1.5, 2.5]}, "encoding": {"y2": {"field": "value"}}},
                {"transform": [{"filter": "datum.method == '- Web&Code'"}], "mark": {"type": "rule", "color": "#b0201b", "strokeWidth": 1.6},
                 "encoding": {"x": {"field": "ref", "type": "nominal", "bandPosition": 1, "axis": null}, "x2": {"field": "slot", "bandPosition": 0.5}}},
                {"mark": {"type": "point", "shape": "M-0.55,-1L0.55,-1L0,0Z", "size": 324, "filled": true, "color": "#b0201b", "opacity": 1},
                 "encoding": {"y": {"field": "value", "type": "quantitative", "axis": null}}},
                {"transform": [{"filter": "datum.drop < 4"}], "mark": {"type": "text", "baseline": "bottom", "dy": -3, "fontSize": 14.5, "fill": "#b0201b"},
                 "encoding": {"text": {"field": "drop", "type": "quantitative", "format": ".2f"}}},
                {"transform": [{"filter": "datum.drop >= 4"}, {"fold": ["value", "base"], "as": ["end", "level"]}],
                 "encoding": {"y": {"aggregate": "mean", "field": "level", "type": "quantitative", "axis": null}, "text": {"field": "drop", "type": "quantitative", "format": ".2f"}},
                 "layer": [
                   {"mark": {"type": "text", "fontSize": 14.5, "fill": "white", "stroke": "white", "strokeWidth": 5, "strokeJoin": "round"}},
                   {"mark": {"type": "text", "fontSize": 14.5, "fill": "#b0201b"}}
                 ]}
              ]
            },
            {
              "transform": [{"filter": "datum.series == 'Rank' && datum.drop != null"}],
              "encoding": {
                "x": {"field": "slot", "type": "nominal", "axis": null},
                "y": {"field": "base", "type": "quantitative", "axis": null,
                      "scale": {"domain": [15, 25], "range": [231, 137], "nice": false, "zero": false, "clamp": true}}
              },
              "layer": [
                {"mark": {"type": "rule", "color": "#b0201b", "strokeWidth": 1.3, "strokeDash": [5, 2.5, 1.5, 2.5]}, "encoding": {"y2": {"field": "value"}}},
                {"transform": [{"filter": "datum.method == '- Web&Code'"}], "mark": {"type": "rule", "color": "#b0201b", "strokeWidth": 1.6},
                 "encoding": {"x": {"field": "ref", "type": "nominal", "bandPosition": 1, "axis": null}, "x2": {"field": "slot", "bandPosition": 0.5}}},
                {"mark": {"type": "point", "shape": "M-0.55,-1L0.55,-1L0,0Z", "size": 324, "filled": true, "color": "#b0201b", "opacity": 1},
                 "encoding": {"y": {"field": "value", "type": "quantitative", "axis": null}}},
                {"transform": [{"fold": ["value", "base"], "as": ["end", "level"]}],
                 "encoding": {"y": {"aggregate": "mean", "field": "level", "type": "quantitative", "axis": null}, "text": {"field": "drop", "type": "quantitative", "format": ".2f"}},
                 "layer": [
                   {"mark": {"type": "text", "fontSize": 14.5, "fill": "white", "stroke": "white", "strokeWidth": 5, "strokeJoin": "round"}},
                   {"mark": {"type": "text", "fontSize": 14.5, "fill": "#b0201b"}}
                 ]}
              ]
            }
          ],
          "resolve": {"scale": {"y": "independent"}, "axis": {"x": "independent", "y": "independent"}}
        }
      ]
    }
  ]
}
